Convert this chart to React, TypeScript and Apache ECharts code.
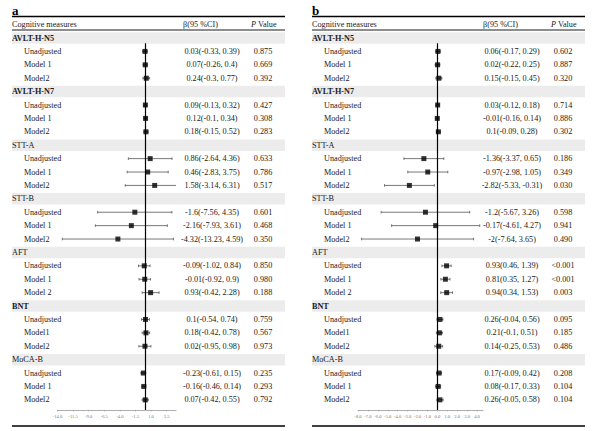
import React, { useEffect, useRef } from "react";
import * as echarts from "echarts";

// ---------- DATA ----------
const groups = ["AVLT-H-N5", "AVLT-H-N7", "STT-A", "STT-B", "AFT", "BNT", "MoCA-B"];
const groupBold = [true, true, false, false, false, true, false];
const modelNames = [
  ["Unadjusted", "Model 1", "Model2"],
  ["Unadjusted", "Model 1", "Model2"],
  ["Unadjusted", "Model 1", "Model2"],
  ["Unadjusted", "Model 1", "Model2"],
  ["Unadjusted", "Model 1", "Model 2"],
  ["Unadjusted", "Model1", "Model2"],
  ["Unadjusted", "Model 1", "Model2"],
];

// Panel a
const betaA = [0.03, 0.07, 0.24, 0.09, 0.12, 0.18, 0.86, 0.46, 1.58, -1.6, -2.16, -4.32, -0.09, -0.01, 0.93, 0.1, 0.18, 0.02, -0.23, -0.16, 0.07];
const lowerA = [-0.33, -0.26, -0.3, -0.13, -0.1, -0.15, -2.64, -2.83, -3.14, -7.56, -7.93, -13.23, -1.02, -0.92, -0.42, -0.54, -0.42, -0.95, -0.61, -0.46, -0.42];
const upperA = [0.39, 0.4, 0.77, 0.32, 0.34, 0.52, 4.36, 3.75, 6.31, 4.35, 3.61, 4.59, 0.84, 0.9, 2.28, 0.74, 0.78, 0.98, 0.15, 0.14, 0.55];
const pA = ["0.875", "0.669", "0.392", "0.427", "0.308", "0.283", "0.633", "0.786", "0.517", "0.601", "0.468", "0.350", "0.850", "0.980", "0.188", "0.759", "0.567", "0.973", "0.235", "0.293", "0.792"];
const ticksA = [-14, -11.5, -9, -6.5, -4, -1.5, 1, 3.5];

// Panel b
const betaB = [0.06, 0.02, 0.15, 0.03, -0.01, 0.1, -1.36, -0.97, -2.82, -1.2, -0.17, -2, 0.93, 0.81, 0.94, 0.26, 0.21, 0.14, 0.17, 0.08, 0.26];
const lowerB = [-0.17, -0.22, -0.15, -0.12, -0.16, -0.09, -3.37, -2.98, -5.33, -5.67, -4.61, -7.64, 0.46, 0.35, 0.34, -0.04, -0.1, -0.25, -0.09, -0.17, -0.05];
const upperB = [0.29, 0.25, 0.45, 0.18, 0.14, 0.28, 0.65, 1.05, -0.31, 3.26, 4.27, 3.65, 1.39, 1.27, 1.53, 0.56, 0.51, 0.53, 0.42, 0.33, 0.58];
const pB = ["0.602", "0.887", "0.320", "0.714", "0.886", "0.302", "0.186", "0.349", "0.030", "0.598", "0.941", "0.490", "<0.001", "<0.001", "0.003", "0.095", "0.185", "0.486", "0.208", "0.104", "0.104"];
const ticksB = [-8, -7, -6, -5, -4, -3, -2, -1, 0, 1, 2, 3, 4];

// ---------- LAYOUT ----------
const FONT = "Liberation Serif";
const GRID_TOP = 31.3;
const GRID_H = 378.6;
const Y_MIN = -0.5;
const Y_MAX = 27.75;
const TABLE_W = 273;
const COL_GROUP = 0;
const COL_MODEL = 12;
const COL_CI = 200;
const COL_P = 251;

type Panel = {
  letter: string;
  off: number;
  beta: number[];
  lower: number[];
  upper: number[];
  p: string[];
  ticks: number[];
  min: number;
  max: number;
  plotLeft: number;
  plotW: number;
  tickSize: number;
};

const panels: Panel[] = [
  { letter: "a", off: 0, beta: betaA, lower: lowerA, upper: upperA, p: pA, ticks: ticksA, min: -14, max: 5, plotLeft: 57.5, plotW: 118.5, tickSize: 4.6 },
  { letter: "b", off: 300, beta: betaB, lower: lowerB, upper: upperB, p: pB, ticks: ticksB, min: -8, max: 4.6, plotLeft: 358, plotW: 125, tickSize: 4.6 },
];

type Row = { row: number; header: boolean; g: number; m: number; i: number };
const rows: Row[] = [];
groups.forEach((_, g) => {
  rows.push({ row: g * 4, header: true, g, m: -1, i: -1 });
  for (let m = 0; m < 3; m++) rows.push({ row: g * 4 + m + 1, header: false, g, m, i: g * 3 + m });
});
const modelRows = rows.filter((r) => !r.header);

function buildOption() {
  const grid: any[] = [];
  const xAxis: any[] = [];
  const yAxis: any[] = [];
  const series: any[] = [];
  const graphic: any[] = [];

  panels.forEach((P, pi) => {
    const tIdx = pi * 2;
    const pIdx = pi * 2 + 1;
    grid.push({ left: 12 + P.off, top: GRID_TOP, width: TABLE_W, height: GRID_H });
    grid.push({ left: P.plotLeft, top: GRID_TOP, width: P.plotW, height: GRID_H });
    xAxis.push({ gridIndex: tIdx, type: "value", min: 0, max: TABLE_W, show: false });
    yAxis.push({ gridIndex: tIdx, type: "value", min: Y_MIN, max: Y_MAX, inverse: true, show: false });
    xAxis.push({
      gridIndex: pIdx,
      type: "value",
      min: P.min,
      max: P.max,
      position: "bottom",
      axisLine: { show: true, onZero: false, lineStyle: { color: "#999", width: 0.8 } },
      axisTick: { show: true, length: 1.5, customValues: P.ticks, lineStyle: { color: "#999", width: 0.6 } },
      axisLabel: {
        show: true,
        customValues: P.ticks,
        formatter: (v: number) => v.toFixed(1),
        fontSize: P.tickSize,
        fontFamily: FONT,
        color: "#777",
        margin: 4,
      },
      splitLine: { show: false },
    });
    yAxis.push({ gridIndex: pIdx, type: "value", min: Y_MIN, max: Y_MAX, inverse: true, show: false });

    // gray bands for group headers
    series.push({
      type: "custom",
      xAxisIndex: tIdx,
      yAxisIndex: tIdx,
      z: 1,
      silent: true,
      data: rows.filter((r) => r.header).map((r) => [0, r.row]),
      renderItem: (params: any, api: any) => {
        const row = api.value(1);
        const a = api.coord([0, row - 0.43]);
        const b = api.coord([TABLE_W, row + 0.43]);
        return { type: "rect", shape: { x: a[0], y: a[1], width: b[0] - a[0], height: b[1] - a[1] }, style: { fill: "#ececec" } };
      },
    });

    // text table
    series.push({
      type: "custom",
      xAxisIndex: tIdx,
      yAxisIndex: tIdx,
      z: 6,
      silent: true,
      data: rows.map((r) => [0, r.row]),
      renderItem: (params: any, api: any) => {
        const r = rows[params.dataIndex];
        const base = { fontFamily: FONT, fontSize: 8.2, fill: "#1a1a1a", verticalAlign: "middle" };
        if (r.header) {
          const c = api.coord([COL_GROUP, r.row]);
          return { type: "text", x: c[0], y: c[1], style: { ...base, text: groups[r.g], fontWeight: groupBold[r.g] ? "bold" : "normal", align: "left" } };
        }
        const cm = api.coord([COL_MODEL, r.row]);
        const cc = api.coord([COL_CI, r.row]);
        const cp = api.coord([COL_P, r.row]);
        const ci = `${P.beta[r.i]}(${P.lower[r.i]}, ${P.upper[r.i]})`;
        return {
          type: "group",
          children: [
            { type: "text", x: cm[0], y: cm[1], style: { ...base, text: modelNames[r.g][r.m], align: "left" } },
            { type: "text", x: cc[0], y: cc[1], style: { ...base, text: ci, align: "center" } },
            { type: "text", x: cp[0], y: cp[1], style: { ...base, text: P.p[r.i], align: "center" } },
          ],
        };
      },
    });

    // error bars
    series.push({
      type: "custom",
      xAxisIndex: pIdx,
      yAxisIndex: pIdx,
      z: 3,
      silent: true,
      data: modelRows.map((r) => [P.lower[r.i], P.upper[r.i], r.row]),
      encode: { x: [0, 1], y: 2 },
      renderItem: (params: any, api: any) => {
        const cs = params.coordSys;
        const lo = api.coord([api.value(0), api.value(2)]);
        const hi = api.coord([api.value(1), api.value(2)]);
        const y = lo[1];
        const xl = Math.max(lo[0], cs.x);
        const xr = Math.min(hi[0], cs.x + cs.width);
        const st = { stroke: "#555", lineWidth: 0.8 };
        const ch: any[] = [{ type: "line", shape: { x1: xl, y1: y, x2: xr, y2: y }, style: st }];
        if (lo[0] >= cs.x) ch.push({ type: "line", shape: { x1: xl, y1: y - 1.3, x2: xl, y2: y + 1.3 }, style: st });
        if (hi[0] <= cs.x + cs.width) ch.push({ type: "line", shape: { x1: xr, y1: y - 1.3, x2: xr, y2: y + 1.3 }, style: st });
        return { type: "group", children: ch };
      },
    });

    // point estimates + zero line
    series.push({
      type: "scatter",
      xAxisIndex: pIdx,
      yAxisIndex: pIdx,
      z: 4,
      silent: true,
      symbol: "rect",
      symbolSize: 5,
      itemStyle: { color: "#000" },
      data: modelRows.map((r) => [P.beta[r.i], r.row]),
      markLine: {
        silent: true,
        symbol: "none",
        label: { show: false },
        lineStyle: { color: "#000", width: 1.2, type: "solid" },
        data: [[{ coord: [0, 0.4] }, { coord: [0, Y_MAX] }]],
      },
    });

    // static decorations
    const L = 12 + P.off;
    const R = L + TABLE_W;
    graphic.push(
      { type: "text", x: L, y: 10, style: { text: P.letter, fontFamily: FONT, fontSize: 13, fontWeight: "bold", fill: "#000", verticalAlign: "middle" } },
      { type: "line", shape: { x1: L, y1: 16.5, x2: R, y2: 16.5 }, style: { stroke: "#000", lineWidth: 1.6 } },
      { type: "line", shape: { x1: L, y1: 30, x2: R, y2: 30 }, style: { stroke: "#000", lineWidth: 0.9 } },
      { type: "line", shape: { x1: L, y1: 426, x2: R, y2: 426 }, style: { stroke: "#000", lineWidth: 1.6 } },
      { type: "text", x: L, y: 24.5, style: { text: "Cognitive measures", fontFamily: FONT, fontSize: 8.2, fill: "#1a1a1a", verticalAlign: "middle" } },
      { type: "text", x: L + 171, y: 24.5, style: { text: "β(95 %CI)", fontFamily: FONT, fontSize: 8.2, fill: "#1a1a1a", verticalAlign: "middle" } },
      {
        type: "text",
        x: L + 239,
        y: 24.5,
        style: {
          text: "{i|P} Value",
          fontFamily: FONT,
          fontSize: 8.2,
          fill: "#1a1a1a",
          verticalAlign: "middle",
          rich: { i: { fontStyle: "italic", fontFamily: FONT, fontSize: 8.2, fill: "#1a1a1a" } },
        },
      }
    );
  });

  return { animation: false, backgroundColor: "#fff", grid, xAxis, yAxis, series, graphic };
}

export default function App() {
  const ref = useRef<HTMLDivElement>(null);
  useEffect(() => {
    if (!ref.current) return;
    const chart = echarts.init(ref.current, undefined, { renderer: "svg" });
    chart.setOption(buildOption() as any);
    return () => chart.dispose();
  }, []);
  return <div ref={ref} style={{ position: "fixed", left: 0, top: 0, width: 600, height: 431, background: "#fff" }} />;
}
